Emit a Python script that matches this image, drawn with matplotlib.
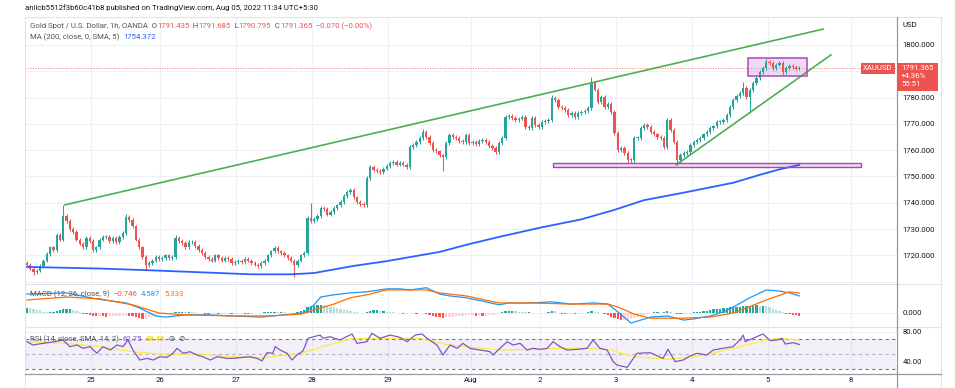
import matplotlib
matplotlib.use("Agg")
import matplotlib.pyplot as plt
from matplotlib.patches import Rectangle
import numpy as np

plt.rcParams['font.family'] = ['Roboto', 'DejaVu Sans']

# hourly XAUUSD closes (Jul 24 evening .. Aug 5 morning)
closes = [
    1716.3, 1715.0, 1713.5, 1714.2, 1716.0, 1718.0, 1720.5, 1723.0, 1722.0, 1727.8,
    1726.0, 1735.0, 1733.0, 1730.0, 1729.0, 1726.0, 1724.5, 1723.0, 1726.6, 1725.5,
    1722.0, 1723.0, 1726.0, 1727.0, 1727.0, 1725.5, 1726.5, 1725.0, 1727.0, 1728.5,
    1734.6, 1733.5, 1731.0, 1726.0, 1723.0, 1719.4, 1716.3, 1717.0, 1718.0, 1719.5,
    1718.5, 1719.0, 1720.0, 1719.0, 1719.4, 1726.6, 1725.5, 1724.7, 1723.0, 1725.0,
    1725.0, 1723.5, 1722.0, 1721.0, 1719.4, 1718.5, 1718.0, 1720.0, 1719.0, 1718.0,
    1719.0, 1718.5, 1717.1, 1717.5, 1718.0, 1717.5, 1718.5, 1718.0, 1717.0, 1716.5,
    1716.0, 1717.0, 1718.0, 1720.0, 1721.5, 1722.8, 1721.5, 1721.0, 1720.0, 1719.0,
    1718.0, 1716.3, 1718.0, 1720.0, 1721.0, 1734.2, 1733.0, 1733.8, 1735.0, 1738.0,
    1737.5, 1735.5, 1736.5, 1738.0, 1739.0, 1740.3, 1742.5, 1744.0, 1745.0, 1742.0,
    1740.3, 1739.5, 1739.0, 1749.4, 1753.6, 1752.5, 1752.0, 1751.7, 1753.0, 1754.0,
    1755.0, 1755.5, 1754.5, 1755.0, 1754.5, 1753.6, 1761.2, 1762.0, 1763.0, 1764.6,
    1767.0, 1765.0, 1762.7, 1760.0, 1759.5, 1758.0, 1757.4, 1762.7, 1765.8, 1765.0,
    1764.6, 1763.5, 1763.0, 1765.8, 1762.7, 1763.0, 1762.3, 1763.5, 1763.9, 1763.0,
    1761.5, 1760.8, 1759.3, 1762.7, 1764.6, 1772.6, 1773.0, 1772.2, 1771.5, 1772.0,
    1772.6, 1768.8, 1768.4, 1772.2, 1769.6, 1768.8, 1770.7, 1771.0, 1771.5, 1779.8,
    1779.0, 1776.4, 1776.0, 1775.3, 1773.4, 1774.0, 1772.6, 1774.0, 1774.5, 1775.0,
    1776.0, 1785.6, 1783.0, 1778.3, 1780.2, 1776.4, 1777.5, 1774.5, 1766.5, 1760.0,
    1760.8, 1758.9, 1756.3, 1756.3, 1764.6, 1764.6, 1768.4, 1769.6, 1768.8, 1767.0,
    1766.0, 1765.0, 1764.6, 1761.2, 1771.5, 1767.7, 1763.1, 1756.3, 1758.2, 1759.0,
    1759.3, 1762.0, 1763.0, 1763.9, 1764.6, 1766.0, 1767.0, 1768.4, 1769.0, 1770.7,
    1770.7, 1771.5, 1773.4, 1776.4, 1779.0, 1780.5, 1781.7, 1783.6, 1780.2, 1782.9,
    1785.6, 1787.5, 1789.7, 1791.3, 1793.5, 1793.1, 1791.3, 1792.5, 1793.1, 1789.7,
    1791.3, 1792.0, 1791.7, 1791.0, 1791.365,
]
first_open = 1717.0
# notable wicks (bar index -> price)
highs = {11: 1739.2, 30: 1735.7, 45: 1727.8, 86: 1740.0, 120: 1768.0,
         159: 1781.0, 171: 1787.8, 217: 1786.0, 224: 1794.7}
lows = {2: 1712.5, 36: 1714.4, 81: 1711.8, 126: 1752.0, 182: 1755.0,
        197: 1754.4, 219: 1774.0, 229: 1788.6}

ma200_bar = [0, 22, 38, 52, 68, 80, 87, 99, 109, 119, 125, 134, 143, 155, 168,
             178, 187, 198, 214, 222, 228, 234]
ma200_val = [1715.6, 1715.0, 1714.3, 1713.6, 1712.8, 1712.8, 1713.3, 1716.0, 1717.8,
             1720.0, 1721.3, 1724.3, 1727.0, 1730.4, 1733.7, 1737.3, 1741.0, 1743.6,
             1747.6, 1750.6, 1752.7, 1754.372]

# drawings on the chart
upper_line_bar = [11.5, 241.2]
upper_line_val = [1739.2, 1806.0]
lower_line_bar = [196.7, 243.6]
lower_line_val = [1754.4, 1796.2]
range_box = (218.5, 236.4, 1788.2, 1795.0)
support_zone = (159.4, 252.7, 1753.6, 1755.1)

last_price = 1791.365

day_bar = [19.4, 40.3, 63.3, 86.4, 109.4, 134.5, 155.5, 178.5, 201.5, 224.5, 249.7]
day_lbl = ['25', '26', '27', '28', '29', 'Aug', '2', '3', '4', '5', '8']
price_ticks = [1720, 1730, 1740, 1750, 1760, 1770, 1780, 1790, 1800]

# MACD (12, 26, 9)
macd_hist = [
    1.4, 1.3, 1.1, 0.9, 0.7,
    0.3, 0.2, 0.2,
    0.4, 0.6, 0.8, 1.0, 1.1, 1.1,
    0.8, 0.5, 0.3,
    -0.2, -0.4, -0.6,
    -0.8, -0.9, -0.8, -0.9, -1.0, -0.9,
    -0.9, -0.8, -0.8, -0.7, -0.7, -0.8, -0.9,
    -1.1, -1.3, -1.5, -1.5,
    -1.2, -0.9, -0.6,
    -0.3, -0.2, -0.1, 0.0, 0.1, 0.2,
    0.4, 0.4, 0.3, 0.4, 0.3, 0.2, 0.1,
    -0.1, -0.2, -0.3, -0.3, -0.2, -0.3, -0.3, -0.2, -0.2, -0.3, -0.3, -0.2, -0.1,
    -0.2, -0.3, -0.2, -0.1, -0.1,
    0.1, 0.2, 0.2, 0.3, 0.4, 0.3, 0.3, 0.2, 0.1, 0.1, 0.0, 0.2,
    0.5, 0.8, 1.5, 1.8, 2.0, 2.2, 2.2, 2.1,
    1.9, 1.7, 1.5, 1.3, 1.1, 0.9, 0.7, 0.5, 0.4,
    0.2, 0.1, 0.1, 0.2,
    0.5, 0.7, 0.7, 0.6, 0.6,
    0.4, 0.3, 0.2, 0.1, 0.0,
    -0.2, -0.2, -0.1, -0.1, -0.2, -0.1, 0.1,
    -0.3, -0.6, -0.8, -1.0, -1.2, -1.3, -1.2,
    -1.1, -1.0, -0.9, -0.8, -0.8, -0.7, -0.6, -0.6,
    -0.7, -0.7, -0.8, -0.7, -0.6, -0.5,
    -0.3, -0.2,
    0.2, 0.5, 0.6, 0.6, 0.5, 0.4, 0.3, 0.2,
    0.2, 0.1, 0.1, 0.0, 0.1, 0.1,
    0.4, 0.6, 0.5,
    -0.1, -0.2, -0.3, -0.3, -0.2, -0.3, -0.3, -0.2, -0.1,
    0.3, 0.5, 0.3, 0.2,
    0.0, -0.2,
    -0.6, -1.0, -1.4, -1.7, -1.9, -1.9, -1.8,
    -1.5, -1.3, -1.1, -0.9, -0.6, -0.4,
    0.1, 0.2, 0.2, 0.1, 0.2, 0.5, 0.3, 0.0,
    -0.3, -0.4, -0.4, -0.3, -0.2,
    0.2, 0.3, 0.4, 0.5, 0.6,
    0.8, 1.0, 1.1, 1.2, 1.3, 1.4, 1.5, 1.5, 1.6, 1.7,
    1.8, 1.9, 1.9, 2.0, 2.1, 2.0, 2.0, 1.9,
    1.5, 1.2, 0.9, 0.6, 0.3,
    -0.3, -0.4, -0.5, -0.6, -0.746,
]
macd_bar = [0, 12, 21, 30, 34, 39, 42, 48, 55, 62, 71, 78, 84, 87, 89, 93, 98, 103,
            109, 113, 116, 121, 125, 128, 133, 138, 143, 146, 153, 159, 165, 172,
            176, 179, 183, 189, 194, 199, 202, 207, 211, 214, 219, 224, 228, 231, 234]
macd_val = [5.1, 5.4, 3.8, 2.7, 1.4, -0.8, -1.1, -0.5, -0.5, -0.8, -1.1, -0.5, 0.0,
            2.2, 4.3, 4.9, 5.4, 5.7, 6.5, 6.5, 6.2, 6.8, 5.1, 4.6, 4.1, 3.2, 2.2,
            2.7, 2.7, 3.0, 2.4, 2.7, 2.4, 0.3, -2.7, -1.1, -0.8, -1.9, -1.6, -0.8,
            0.3, 1.6, 4.1, 6.2, 5.9, 5.4, 4.587]
signal_bar = [0, 12, 22, 32, 40, 48, 62, 73, 83, 88, 93, 98, 103, 109, 121, 125,
              133, 143, 153, 165, 176, 179, 184, 189, 199, 207, 214, 224, 231, 234]
signal_val = [3.5, 4.3, 3.8, 2.2, 0.0, -0.5, -0.8, -0.8, -0.3, 1.1, 2.4, 4.1, 4.9,
              6.2, 6.2, 5.4, 4.6, 2.7, 2.7, 2.4, 2.4, 1.6, -0.3, -1.4, -1.4, -1.1,
              0.0, 3.5, 5.7, 5.333]

# RSI (14) and its SMA (14)
rsi_bar = [0, 1.8, 4.8, 8.5, 10.9, 13, 15.2, 17, 19.1, 21.2, 23, 25.2, 27.3, 29.1,
           30.6, 32.1, 34.2, 36.4, 38.2, 40.3, 42.4, 44.2, 45.5, 47.3, 49.4, 51.5,
           53.3, 55.5, 57.6, 60.6, 62.4, 65.5, 67.6, 69.7, 71.2, 72.7, 74.5, 75.2,
           76.7, 78.8, 80.3, 81.8, 83.6, 85.2, 88.8, 89.7, 91.8, 94.8, 98.5, 100,
           103, 104.5, 107, 110, 113, 115.2, 117.6, 119.7, 121.2, 124.2, 126, 128.2,
           130.3, 132.1, 134.2, 137.3, 140.3, 141.2, 143.3, 145.5, 147.3, 149.4,
           151.5, 153.3, 155.5, 157.6, 159.4, 161.5, 163.6, 166.7, 169.7, 171.5,
           173.6, 175.8, 177.6, 178.8, 181.8, 182.7, 184.8, 188.8, 192.7, 194.2,
           196.4, 198.8, 200.9, 203, 206, 207.9, 210.9, 213.9, 216, 217, 217.6, 220,
           223, 225.2, 227.3, 228.8, 229.7, 232.1, 234]
rsi_val = [66.4, 62.0, 64.2, 66.4, 68.7, 59.8, 62.0, 57.6, 59.8, 50.9, 59.8, 55.3,
           62.0, 59.8, 68.7, 55.3, 42.0, 44.2, 42.0, 46.4, 45.6, 50.9, 57.6, 50.9,
           53.1, 48.7, 46.4, 42.0, 46.4, 44.2, 44.2, 45.6, 46.4, 44.2, 40.7, 51.8,
           50.9, 59.8, 55.3, 50.9, 42.0, 48.7, 54.0, 71.0, 75.3, 71.0, 73.0, 68.7,
           76.7, 64.2, 66.4, 77.6, 71.0, 75.3, 72.2, 66.4, 75.3, 76.7, 71.0, 62.0,
           48.7, 62.0, 57.6, 64.2, 57.6, 55.3, 53.1, 48.7, 57.6, 66.4, 62.0, 64.2,
           55.3, 57.6, 56.2, 57.6, 66.4, 59.8, 55.3, 56.2, 57.6, 68.7, 57.6, 55.3,
           39.8, 35.3, 32.2, 37.6, 50.9, 51.8, 44.2, 56.2, 39.8, 42.0, 47.3, 50.9,
           48.7, 55.3, 57.6, 59.8, 68.7, 75.3, 66.4, 71.0, 76.7, 67.8, 68.7, 71.0,
           63.3, 65.1, 62.75]
rsi_ma_bar = [0, 12, 22, 32, 40, 52, 62, 71, 78, 83, 88, 93, 98, 103, 113, 119, 123,
              128, 133, 138, 143, 153, 164, 171, 177, 184, 194, 204, 214, 224, 228, 234]
rsi_ma_val = [66.4, 64.2, 59.8, 53.0, 50.0, 50.0, 46.4, 44.2, 48.7, 50.9, 57.6, 64.2,
              70.0, 71.0, 71.0, 71.0, 66.4, 62.0, 59.8, 57.6, 55.3, 56.2, 57.6, 57.6,
              55.3, 46.4, 43.0, 47.3, 57.6, 68.7, 71.0, 68.48]

GREEN = '#26A69A'
RED = '#EF5350'
GRID = '#EDF0F5'
TXT = '#131722'
FS = 5.6

fig = plt.figure(figsize=(9.55, 3.88), dpi=100)
W, H = 955.0, 388.0


def fx(px):
    return px / W


def fy(py):
    return 1 - py / H


left, right = 25, 896
ax_p = fig.add_axes([fx(left), fy(283), fx(right - left), (283 - 17) / H])
ax_m = fig.add_axes([fx(left), fy(326), fx(right - left), (326 - 284) / H])
ax_r = fig.add_axes([fx(left), fy(373), fx(right - left), (373 - 327) / H])

n = len(closes)
idx = np.arange(n)
xlim = (-0.6, 263.3)

for ax in (ax_p, ax_m, ax_r):
    ax.set_xlim(*xlim)
    for s in ax.spines.values():
        s.set_visible(False)
    ax.yaxis.tick_right()
    ax.tick_params(axis='y', length=0, labelsize=FS, colors=TXT, pad=4.5)
    ax.tick_params(axis='x', length=0, labelsize=FS, colors=TXT)
    for d in day_bar:
        ax.axvline(d, color=GRID, lw=0.8, zorder=0)
    ax.set_xticks(day_bar)
    ax.set_xticklabels([])

# ---- price pane
c = np.array(closes)
o = np.concatenate([[first_open], c[:-1]])
hi = np.maximum(o, c) + 0.7
lo = np.minimum(o, c) - 0.7
for k, v in highs.items():
    hi[k] = v
for k, v in lows.items():
    lo[k] = v
col = np.where(c >= o, GREEN, RED)

ax_p.set_ylim(1709.5, 1810.6)
ax_p.set_yticks(price_ticks)
# the 1790 label sits under the last-price tag, so it is left blank
ax_p.set_yticklabels(['' if t == 1790 else '%.3f' % t for t in price_ticks])
for t in price_ticks + [1710]:
    ax_p.axhline(t, color=GRID, lw=0.8, zorder=0)

ax_p.axhline(last_price, color=RED, lw=0.7, ls=(0, (1, 1.6)), alpha=0.75, zorder=1)
ax_p.vlines(idx, lo, hi, color=col, lw=0.75, zorder=3)
ax_p.bar(idx, np.maximum(np.abs(c - o), 0.25), bottom=np.minimum(o, c), width=0.7,
         color=col, linewidth=0, zorder=3)
ax_p.plot(ma200_bar, ma200_val, color='#2962FF', lw=1.3, zorder=4)

ax_p.plot(upper_line_bar, upper_line_val, color='#4CAF50', lw=1.2, zorder=5)
ax_p.plot(lower_line_bar, lower_line_val, color='#4CAF50', lw=1.2, zorder=5)
x0, x1, y0, y1 = range_box
ax_p.add_patch(Rectangle((x0, y0), x1 - x0, y1 - y0, facecolor='#CE93D8', alpha=0.35,
                         edgecolor='none', zorder=2))
ax_p.add_patch(Rectangle((x0, y0), x1 - x0, y1 - y0, facecolor='none',
                         edgecolor='#AB47BC', lw=1.1, zorder=6))
x0, x1, y0, y1 = support_zone
ax_p.add_patch(Rectangle((x0, y0), x1 - x0, y1 - y0, facecolor='#CE93D8', alpha=0.35,
                         edgecolor='none', zorder=2))
ax_p.add_patch(Rectangle((x0, y0), x1 - x0, y1 - y0, facecolor='none',
                         edgecolor='#AB47BC', lw=1.0, zorder=6))

# ---- MACD pane
hist = np.array(macd_hist)
prev = np.concatenate([[hist[0]], hist[:-1]])
hcol = np.where(hist >= 0, np.where(hist >= prev, '#26A69A', '#B2DFDB'),
                np.where(hist < prev, '#FF5252', '#FFCDD2'))
ax_m.set_ylim(-3.5, 7.8)
ax_m.axhline(0, color=GRID, lw=0.8, zorder=0)
ax_m.bar(idx, hist, width=0.7, color=hcol, linewidth=0, zorder=2)
ax_m.plot(macd_bar, macd_val, color='#2196F3', lw=0.9, zorder=3)
ax_m.plot(signal_bar, signal_val, color='#FF6D00', lw=0.9, zorder=3)
ax_m.set_yticks([0])
ax_m.set_yticklabels(['0.000'])

# ---- RSI pane
ax_r.set_ylim(24.7, 86)
ax_r.axhspan(30, 70, color='#7E57C2', alpha=0.09, lw=0, zorder=0)
for t in (40, 80):
    ax_r.axhline(t, color=GRID, lw=0.8, zorder=0)
ax_r.axhline(70, color='#787B86', lw=0.8, ls=(0, (3, 3)), zorder=1)
ax_r.axhline(30, color='#787B86', lw=0.8, ls=(0, (3, 3)), zorder=1)
ax_r.axhline(50, color='#787B86', lw=0.8, ls=(0, (3, 3)), alpha=0.5, zorder=1)
ax_r.plot(rsi_ma_bar, rsi_ma_val, color='#FFEB3B', lw=0.9, zorder=2)
ax_r.plot(rsi_bar, rsi_val, color='#7E57C2', lw=0.9, zorder=3)
ax_r.set_yticks([40, 80])
ax_r.set_yticklabels(['40.00', '80.00'])
ax_r.set_xticklabels(day_lbl)
ax_r.tick_params(axis='x', pad=3)

# ---- frame lines
fig.add_artist(plt.Line2D([fx(25), fx(941)], [fy(17), fy(17)], color='#E0E3EB', lw=0.8))
fig.add_artist(plt.Line2D([fx(25), fx(25)], [fy(17), fy(388)], color='#E0E3EB', lw=0.8))
fig.add_artist(plt.Line2D([fx(941), fx(941)], [fy(17), fy(388)], color='#E0E3EB', lw=0.8))
fig.add_artist(plt.Line2D([fx(25), fx(941)], [fy(283.5), fy(283.5)], color='#E0E3EB', lw=0.8))
fig.add_artist(plt.Line2D([fx(25), fx(941)], [fy(326.5), fy(326.5)], color='#E0E3EB', lw=0.8))
fig.add_artist(plt.Line2D([fx(896.5), fx(896.5)], [fy(17), fy(388)], color='#9598A1', lw=0.9))
fig.add_artist(plt.Line2D([fx(25), fx(941)], [fy(373.5), fy(373.5)], color='#9598A1', lw=0.9))

# ---- texts
renderer = fig.canvas.get_renderer()


def text_run(x, y, parts, size=FS):
    for s, colr in parts:
        t = fig.text(x, y, s, color=colr, fontsize=size, va='center', ha='left')
        x += t.get_window_extent(renderer=renderer).width / fig.bbox.width


text_run(fx(25), fy(8), [('anilcb5512f3b60c41b8 published on TradingView.com, '
                           'Aug 05, 2022 11:34 UTC+5:30', TXT)])
GREY = '#50535E'
text_run(fx(30), fy(26), [('Gold Spot / U.S. Dollar, 1h, OANDA  O', GREY), ('1791.435', RED),
                          ('  H', GREY), ('1791.685', RED), ('  L', GREY), ('1790.795', RED),
                          ('  C', GREY), ('1791.365', RED), ('  \u22120.070 (\u22120.00%)', RED)])
text_run(fx(30), fy(37), [('MA (200, close, 0, SMA, 5)  ', GREY), ('1754.372', '#2962FF')])
text_run(fx(30), fy(294), [('MACD (12, 26, close, 9)  ', GREY), ('\u22120.746', RED),
                           ('  ', GREY), ('4.587', '#2196F3'), ('  ', GREY),
                           ('5.333', '#FF6D00')])
text_run(fx(30), fy(339), [('RSI (14, close, SMA, 14, 2)  ', GREY), ('62.75', '#7E57C2'),
                           ('  ', GREY), ('68.48', '#E6C800'), ('  \u2298  \u2298', GREY)])
fig.text(fx(902), fy(25), 'USD', fontsize=FS, color=TXT, va='center')

# last price labels
fig.add_artist(Rectangle((fx(897), fy(91)), fx(41), (91 - 63) / H, facecolor=RED,
                         edgecolor='none', zorder=5))
fig.text(fx(901), fy(68), '1791.365', color='white', fontsize=FS, va='center', zorder=6)
fig.text(fx(901), fy(76), '+4.36%', color='white', fontsize=FS, va='center', zorder=6)
fig.text(fx(901), fy(84), '55:51', color='white', fontsize=FS, va='center', zorder=6)
fig.add_artist(Rectangle((fx(861), fy(73.5)), fx(34), (73.5 - 63) / H, facecolor=RED,
                         edgecolor='none', zorder=5))
fig.text(fx(878), fy(68.3), 'XAUUSD', color='white', fontsize=FS, va='center',
         ha='center', zorder=6)

fig.savefig('out.png', dpi=100, facecolor='white')
